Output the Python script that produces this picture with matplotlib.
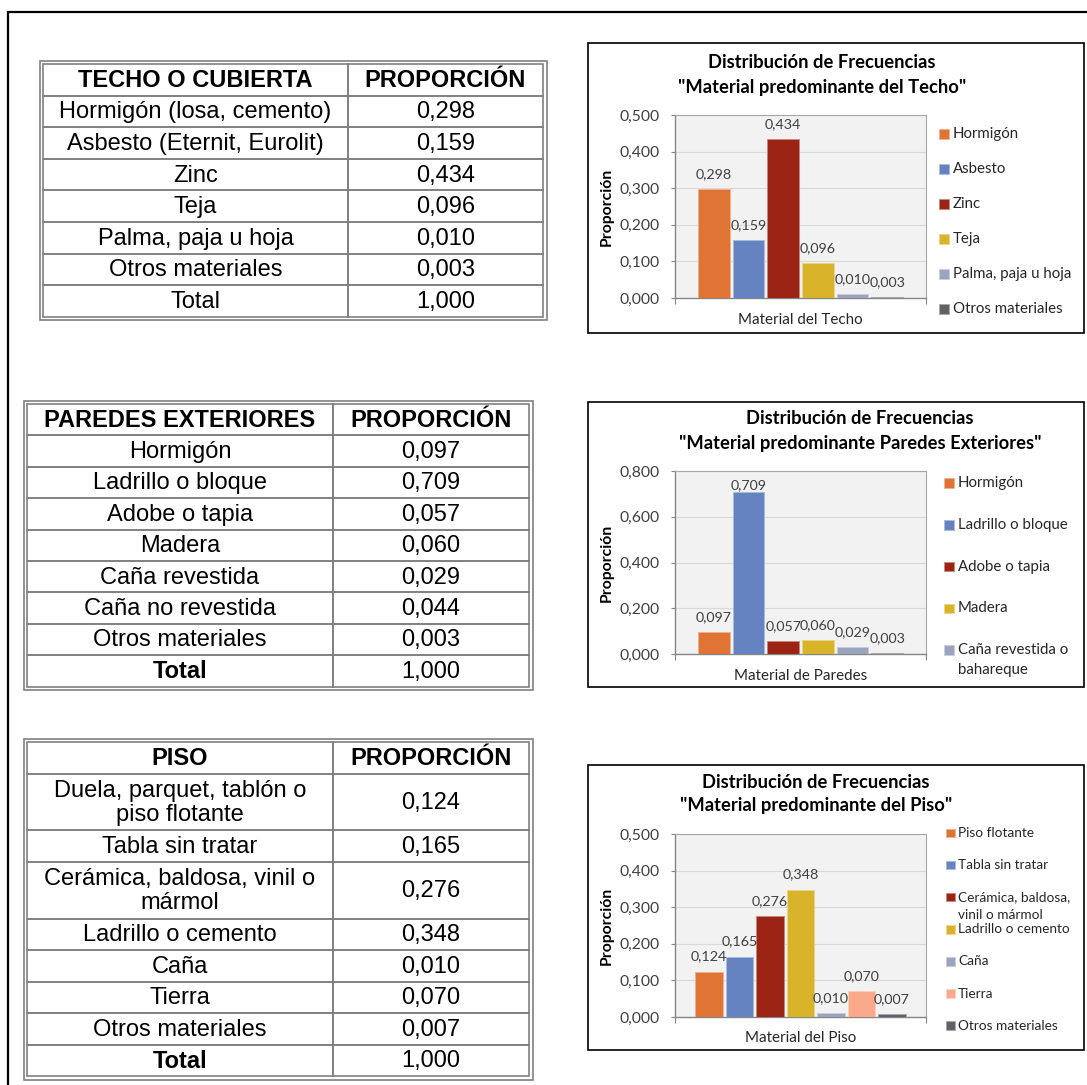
"""
Tablas y gráficos de distribución de frecuencias: material de techo,
paredes exteriores y piso. Tres tablas a la izquierda, tres gráficos
de barras estilo Excel a la derecha.
"""

import numpy as np
import matplotlib.pyplot as plt
import matplotlib.colors as mcolors
from matplotlib.patches import Rectangle

W, H = 1087, 1085

# ---- datos ----
techo_items = ["Hormigón (losa, cemento)", "Asbesto (Eternit, Eurolit)", "Zinc",
               "Teja", "Palma, paja u hoja", "Otros materiales"]
techo_vals = [0.298, 0.159, 0.434, 0.096, 0.010, 0.003]
techo_total = "1,000"
techo_legend = ["Hormigón", "Asbesto", "Zinc", "Teja", "Palma, paja u hoja",
                "Otros materiales"]

paredes_items = ["Hormigón", "Ladrillo o bloque", "Adobe o tapia", "Madera",
                 "Caña revestida", "Caña no revestida", "Otros materiales"]
paredes_vals = [0.097, 0.709, 0.057, 0.060, 0.029, 0.044, 0.003]
paredes_total = "1,000"
paredes_chart_vals = [0.097, 0.709, 0.057, 0.060, 0.029, 0.003]
paredes_legend = ["Hormigón", "Ladrillo o bloque", "Adobe o tapia", "Madera",
                  "Caña revestida o\nbahareque", "Otros materiales"]

piso_items = ["Duela, parquet, tablón o\npiso flotante", "Tabla sin tratar",
              "Cerámica, baldosa, vinil o\nmármol", "Ladrillo o cemento",
              "Caña", "Tierra", "Otros materiales"]
piso_vals = [0.124, 0.165, 0.276, 0.348, 0.010, 0.070, 0.007]
piso_total = "1,000"
piso_legend = ["Piso flotante", "Tabla sin tratar", "Cerámica, baldosa,\nvinil o mármol",
               "Ladrillo o cemento", "Caña", "Tierra", "Otros materiales"]

ORANGE = "#E07434"
BLUE = "#6483C0"
RED = "#9C2415"
GOLD = "#D9B42B"
GREYBLUE = "#9BA4BE"
DARK = "#5E6165"
SALMON = "#FBA98B"
techo_colors = [ORANGE, BLUE, RED, GOLD, GREYBLUE, DARK]
paredes_colors = [ORANGE, BLUE, RED, GOLD, GREYBLUE, DARK]
piso_colors = [ORANGE, BLUE, RED, GOLD, GREYBLUE, SALMON, DARK]

TABLE_LINE = "#808080"
TXT = "#262626"
AXIS = "#868686"

plt.rcParams["font.family"] = ["Lato", "DejaVu Sans"]


def fmt(v):
    return f"{v:.3f}".replace(".", ",")


def lighten(c, f=0.45):
    r, g, b = mcolors.to_rgb(c)
    return (r + (1 - r) * f, g + (1 - g) * f, b + (1 - b) * f)


fig = plt.figure(figsize=(W / 100, H / 100), dpi=100, facecolor="white")
bg = fig.add_axes([0, 0, 1, 1])
bg.set_xlim(0, W)
bg.set_ylim(H, 0)
bg.axis("off")

# marco exterior (solo arriba e izquierda visibles)
bg.plot([8, 8, W], [H, 12, 12], color="black", lw=1.6, solid_joinstyle="miter")


def draw_table(left, right, col, top, heights, header, items, vals, total, total_bold):
    bottom = top + sum(heights)
    for pad in (0, 3.5):
        bg.add_patch(Rectangle((left - pad, top - pad), right - left + 2 * pad,
                               bottom - top + 2 * pad, fill=False,
                               ec=TABLE_LINE, lw=1.2))
    bg.plot([col, col], [top, bottom], color=TABLE_LINE, lw=1.4)
    rows = [(header, "PROPORCIÓN", True, True)]
    rows += [(it, fmt(v), False, False) for it, v in zip(items, vals)]
    rows += [("Total", total, total_bold, False)]
    y = top
    c1, c2 = (left + col) / 2, (col + right) / 2
    for i, ((a, b, ba, bb), h) in enumerate(zip(rows, heights)):
        if i > 0:
            bg.plot([left, right], [y, y], color=TABLE_LINE, lw=1.4)
        yc = y + h / 2 + 1
        bg.text(c1, yc, a, ha="center", va="center", fontsize=17,
                family="Liberation Sans", fontweight="bold" if ba else "normal",
                color="black", linespacing=1.12)
        bg.text(c2, yc, b, ha="center", va="center", fontsize=17,
                family="Liberation Sans", fontweight="bold" if bb else "normal",
                color="black")
        y += h


draw_table(43, 543, 348, 64, [31.6] * 8, "TECHO O CUBIERTA",
           techo_items, techo_vals, techo_total, False)
draw_table(27, 529, 333, 404, [31.4] * 9, "PAREDES EXTERIORES",
           paredes_items, paredes_vals, paredes_total, True)
draw_table(27, 529, 333, 742, [31.5, 56.5, 31.5, 57, 31.5, 31.5, 31.5, 31.5, 31.5],
           "PISO", piso_items, piso_vals, piso_total, True)


def draw_chart(frame, plot, title_x, title_ys, title_lines, vals, colors, ymax, ystep,
               xlabel, xlabel_y, legend, leg_sq_x, leg_sq, leg_txt_x, leg_y0, leg_step,
               leg_fs, leg_line):
    fl, ft, fr, fb = frame
    bg.add_patch(Rectangle((fl, ft), fr - fl, fb - ft, fill=False, ec="black", lw=1.2))
    pl, pt, pr, pb = plot
    ax = fig.add_axes([pl / W, 1 - pb / H, (pr - pl) / W, (pb - pt) / H])
    ax.set_facecolor("#F2F2F2")
    n = len(vals)
    x = np.arange(n)
    ax.bar(x, vals, width=0.91, color=colors,
           edgecolor=[lighten(c) for c in colors], linewidth=0.7, zorder=3)
    ax.set_xlim(-1.12, n - 1 + 1.12)
    ax.set_ylim(0, ymax)
    ax.set_yticks(np.arange(0, ymax + 1e-9, ystep))
    ax.yaxis.set_major_formatter(plt.FuncFormatter(lambda v, _: fmt(v)))
    ax.set_xticks(ax.get_xlim())
    ax.set_xticklabels([])
    ax.tick_params(axis="y", length=3, width=0.8, color=AXIS, pad=8,
                   labelsize=11.3, labelcolor="#404040")
    ax.tick_params(axis="x", length=4, width=0.8, color=AXIS)
    ax.yaxis.grid(True, color="#D9D9D9", lw=0.8)
    ax.set_axisbelow(True)
    for s in ("left", "bottom"):
        ax.spines[s].set_color(AXIS)
        ax.spines[s].set_linewidth(1.0)
    for s in ("top", "right"):
        ax.spines[s].set_color("#A6A6A6")
        ax.spines[s].set_linewidth(0.8)

    # etiquetas de datos sobre cada barra
    ppu = (pb - pt) / ymax
    for xi, v in zip(x, vals):
        room = (ymax - v) * ppu
        off = 15 if room >= 24 else room - 14
        ax.annotate(fmt(v), (xi, v), xytext=(0, off * 0.72), textcoords="offset points",
                    ha="center", va="center", fontsize=10.3, color="#404040",
                    annotation_clip=False, zorder=5)

    for line, ty in zip(title_lines, title_ys):
        bg.text(title_x, ty, line, ha="center", va="center", fontsize=13.2,
                fontweight="bold", color="black")
    bg.text(607, (pt + pb) / 2, "Proporción", rotation=90, ha="center", va="center",
            fontsize=11.3, fontweight="bold", color="black")
    bg.text((pl + pr) / 2, xlabel_y, xlabel, ha="center", va="center",
            fontsize=10.9, color=TXT)

    # leyenda a la manera de Excel (entradas a paso fijo, recortada por el marco)
    for i, (lab, c) in enumerate(zip(legend, colors)):
        yc = leg_y0 + i * leg_step
        if yc + leg_sq / 2 > fb:
            break
        bg.add_patch(Rectangle((leg_sq_x, yc - leg_sq / 2), leg_sq, leg_sq,
                               fc=c, ec=lighten(c), lw=0.6))
        for j, part in enumerate(lab.split("\n")):
            bg.text(leg_txt_x, yc + j * leg_line, part, ha="left", va="center",
                    fontsize=leg_fs, color=TXT)


draw_chart((588, 43, 1084, 333), (675, 115, 926, 298), 822, [63, 88],
           ["Distribución de Frecuencias", "\"Material predominante del Techo\""],
           techo_vals, techo_colors, 0.5, 0.1, "Material del Techo", 320,
           techo_legend, 939, 10, 953, 134, 35, 10.8, 20)
draw_chart((588, 402, 1084, 687), (675, 471, 926, 654), 860, [418, 443],
           ["Distribución de Frecuencias", "\"Material predominante Paredes Exteriores\""],
           paredes_chart_vals, paredes_colors, 0.8, 0.2, "Material de Paredes", 676,
           paredes_legend, 944, 9.5, 958, 483, 41.8, 10.8, 20)
draw_chart((588, 765, 1084, 1050), (675, 834, 926, 1017), 816, [782, 805],
           ["Distribución de Frecuencias", "\"Material predominante del Piso\""],
           piso_vals, piso_colors, 0.5, 0.1, "Material del Piso", 1038,
           piso_legend, 946, 8.5, 958, 833, 32.1, 9.8, 18)

fig.savefig("out.png", dpi=100, facecolor="white")
